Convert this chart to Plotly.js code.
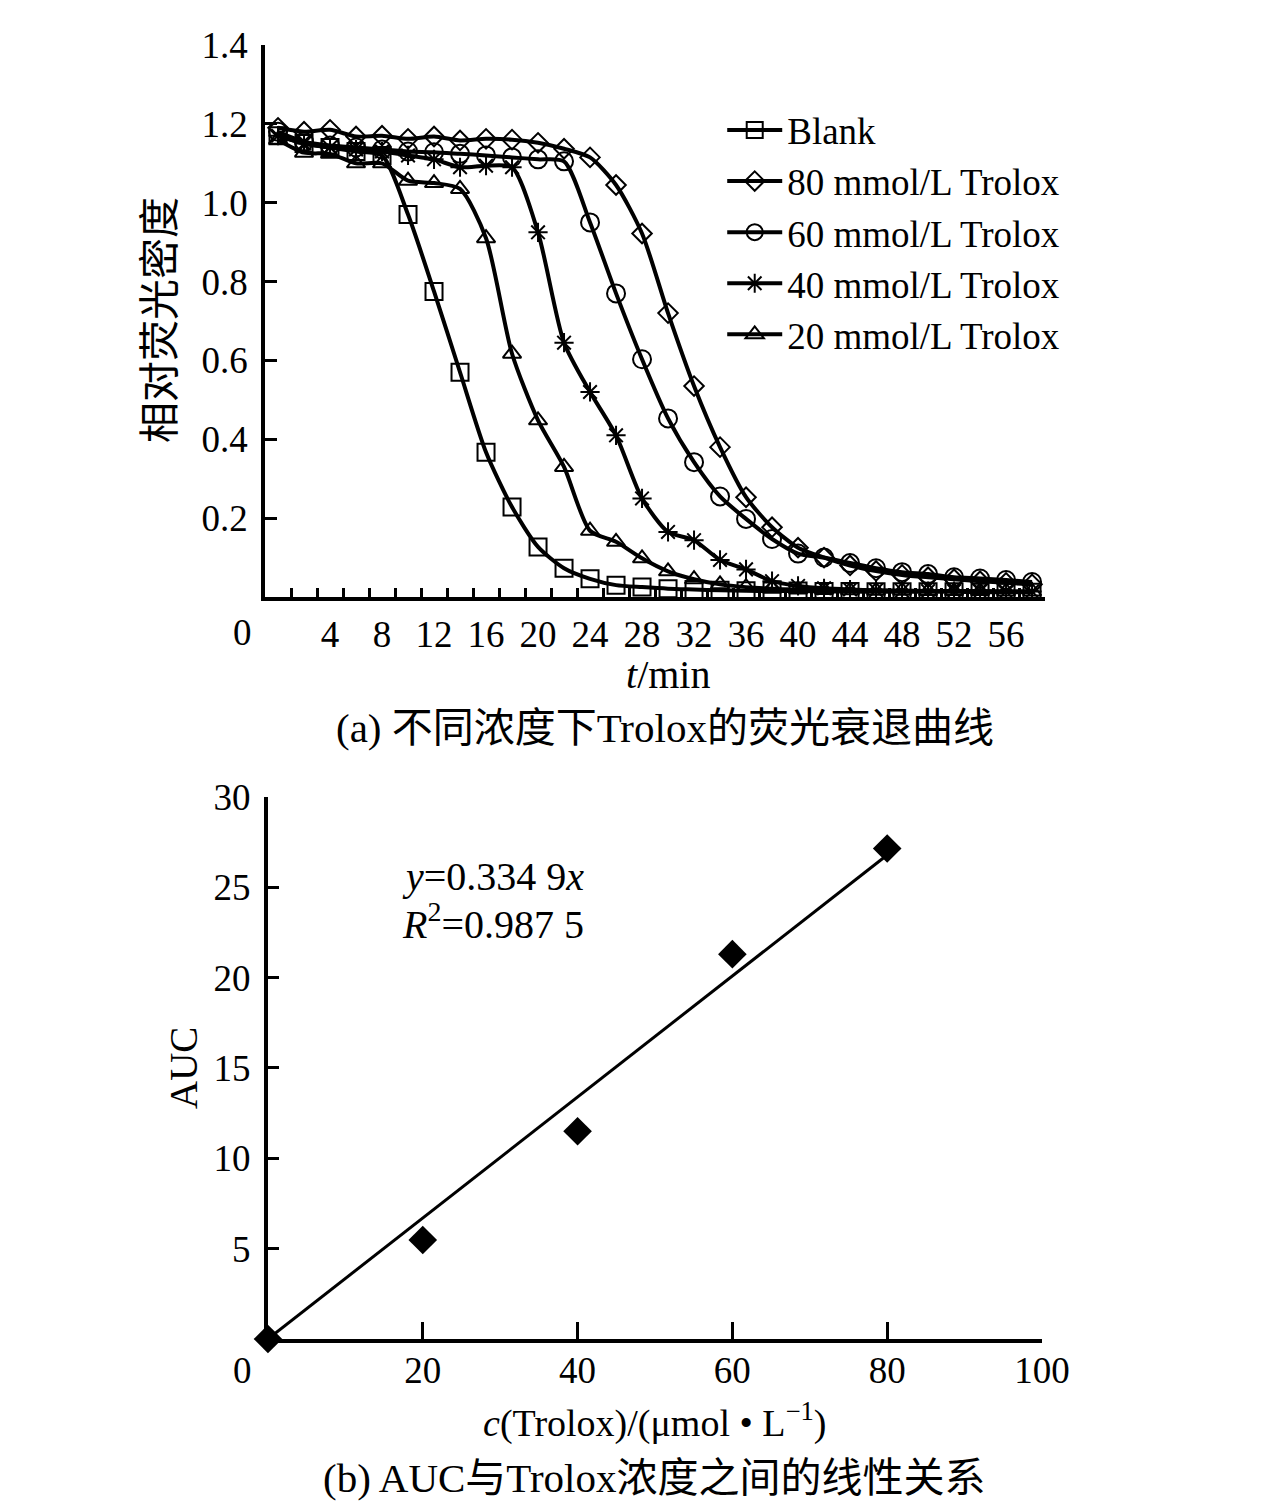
<!DOCTYPE html>
<html>
<head>
<meta charset="utf-8">
<script src="https://cdn.plot.ly/plotly-3.0.1.min.js"></script>
<style>
  html, body { margin: 0; padding: 0; background: #fff; }
  #chart { width: 1276px; height: 1506px; }
</style>
</head>
<body>
<div id="chart"></div>
<script>
// (a) fluorescence decay, sampled every 2 min
var timeMin = [0, 2, 4, 6, 8, 10, 12, 14, 16, 18, 20, 22, 24, 26, 28,
               30, 32, 34, 36, 38, 40, 42, 44, 46, 48, 50, 52, 54, 56, 58];

var blank = [1.17, 1.15, 1.14, 1.13, 1.12, 0.97, 0.775, 0.57, 0.367, 0.228,
             0.127, 0.073, 0.046, 0.03, 0.025, 0.021, 0.019, 0.017, 0.016, 0.015,
             0.015, 0.014, 0.014, 0.013, 0.013, 0.013, 0.013, 0.012, 0.012, 0.012];
var trolox80 = [1.19, 1.18, 1.185, 1.168, 1.17, 1.162, 1.168, 1.158, 1.162, 1.16,
                1.152, 1.137, 1.115, 1.045, 0.922, 0.72, 0.535, 0.38, 0.253, 0.177,
                0.125, 0.1, 0.08, 0.066, 0.056, 0.05, 0.045, 0.04, 0.036, 0.032];
var trolox60 = [1.18, 1.155, 1.145, 1.14, 1.135, 1.13, 1.128, 1.124, 1.12, 1.115,
                1.11, 1.105, 0.95, 0.77, 0.603, 0.453, 0.342, 0.255, 0.198, 0.147,
                0.11, 0.1, 0.086, 0.073, 0.063, 0.058, 0.05, 0.047, 0.043, 0.038];
var trolox40 = [1.17, 1.15, 1.14, 1.135, 1.13, 1.12, 1.11, 1.09, 1.094, 1.09,
                0.925, 0.645, 0.52, 0.41, 0.25, 0.165, 0.144, 0.094, 0.07, 0.04,
                0.028, 0.022, 0.019, 0.017, 0.016, 0.015, 0.015, 0.014, 0.014, 0.014];
var trolox20 = [1.16, 1.127, 1.124, 1.1, 1.1, 1.056, 1.05, 1.035, 0.91, 0.617,
                0.448, 0.33, 0.168, 0.14, 0.098, 0.065, 0.045, 0.032, 0.025, 0.021,
                0.019, 0.018, 0.017, 0.016, 0.016, 0.015, 0.015, 0.015, 0.014, 0.014];

var timeLabels = [4, 8, 12, 16, 20, 24, 28, 32, 36, 40, 44, 48, 52, 56];
var timeTicks = [1, 3, 5, 7, 9, 11, 13, 15, 17, 19, 21, 23, 25, 27, 29,
                 31, 33, 35, 37, 39, 41, 43, 45, 47, 49, 51, 53, 55, 57];
var odLabels = [0.2, 0.4, 0.6, 0.8, 1.0, 1.2, 1.4];

// (b) AUC vs Trolox concentration
var conc = [0, 20, 40, 60, 80];
var auc = [0, 5.48, 11.5, 21.3, 27.15];
var fitX = [0, 80];
var fitY = [0, 26.79];
var concLabels = [20, 40, 60, 80, 100];
var aucLabels = [5, 10, 15, 20, 25, 30];

var serif = 'Liberation Serif, Times New Roman, Noto Sans CJK SC, serif';
var fs = 37;

function decay(name, y, symbol, size) {
  return {
    name: name, x: timeMin, y: y, type: 'scatter', mode: 'lines+markers',
    xaxis: 'x', yaxis: 'y', legendgroup: name,
    line: {color: '#000', width: 4, shape: 'spline', smoothing: 0.7},
    marker: {symbol: symbol, size: size, color: '#000', line: {color: '#000', width: 2}}
  };
}

var data = [
  decay('Blank', blank, 'square-open', 17),
  decay('80 mmol/L Trolox', trolox80, 'diamond-open', 15),
  decay('60 mmol/L Trolox', trolox60, 'circle-open', 18),
  decay('40 mmol/L Trolox', trolox40, 'asterisk-open', 16),
  decay('20 mmol/L Trolox', trolox20, 'triangle-up-open', 16),
  {
    x: fitX, y: fitY, type: 'scatter', mode: 'lines', showlegend: false,
    xaxis: 'x2', yaxis: 'y2', line: {color: '#000', width: 3}
  },
  {
    x: conc, y: auc, type: 'scatter', mode: 'markers', showlegend: false,
    xaxis: 'x2', yaxis: 'y2', cliponaxis: false,
    marker: {symbol: 'diamond', size: 22, color: '#000'}
  }
];

var axisBase = {
  showline: true, linecolor: '#000', linewidth: 4, showgrid: false,
  zeroline: false, tickcolor: '#000', tickwidth: 3,
  tickfont: {family: serif, size: fs, color: '#000'}, fixedrange: true
};

function ax(extra) { return Object.assign({}, axisBase, extra); }

var ann = function (text, x, y, size, opts) {
  return Object.assign({
    text: text, x: x, y: y, xref: 'paper', yref: 'paper', showarrow: false,
    xanchor: 'center', yanchor: 'middle',
    font: {family: serif, size: size, color: '#000'}
  }, opts || {});
};

var layout = {
  width: 1276, height: 1506,
  margin: {l: 0, r: 0, t: 0, b: 0},
  paper_bgcolor: '#fff', plot_bgcolor: '#fff',
  showlegend: true,
  legend: {
    x: 0.566, y: 0.934, xanchor: 'left', yanchor: 'top',
    font: {family: serif, size: 37, color: '#000'},
    bgcolor: 'rgba(0,0,0,0)', tracegroupgap: 0, itemwidth: 55
  },
  xaxis: ax({
    domain: [0.2077, 0.819], range: [-1, 59], anchor: 'y',
    tickmode: 'array', tickvals: timeLabels, ticks: '', ticklabelstandoff: 2,
    minor: {tickmode: 'array', tickvals: timeTicks, ticks: 'inside', ticklen: 9,
            tickwidth: 3, tickcolor: '#000'}
  }),
  yaxis: ax({
    domain: [0.6036, 0.9701], range: [0, 1.4], anchor: 'x',
    tickmode: 'array', tickvals: odLabels, tickformat: '.1f',
    ticks: 'inside', ticklen: 12, ticklabelstandoff: 6
  }),
  xaxis2: ax({
    domain: [0.21, 0.8166], range: [0, 100], anchor: 'y2',
    tickmode: 'array', tickvals: concLabels,
    ticks: 'inside', ticklen: 17, ticklabelstandoff: -4
  }),
  yaxis2: ax({
    domain: [0.1109, 0.4708], range: [0, 30], anchor: 'x2',
    tickmode: 'array', tickvals: aucLabels,
    ticks: 'inside', ticklen: 11, ticklabelstandoff: 6
  }),
  annotations: [
    ann('0', 0.1904, 0.5797, fs),
    ann('<i>t</i>/min', 0.5235, 0.5518, 40),
    ann('(a) 不同浓度下Trolox的荧光衰退曲线', 0.5212, 0.5166, 41),
    ann('相对荧光密度', 0.1254, 0.7875, 41, {textangle: -90}),
    ann('0', 0.1904, 0.0903, fs),
    ann('AUC', 0.1434, 0.2908, 39, {textangle: -90}),
    ann('<i>c</i>(Trolox)/(μmol • L<sup>−1</sup>)', 0.5133, 0.0571, 38),
    ann('(b) AUC与Trolox浓度之间的线性关系', 0.5133, 0.0186, 41),
    ann('<i>y</i>=0.334 9<i>x</i>', 0.3135, 0.4177, 40, {xanchor: 'left'}),
    ann('<i>R</i><sup>2</sup>=0.987 5', 0.3135, 0.3878, 40, {xanchor: 'left'})
  ]
};

var config = {displayModeBar: false, responsive: false, staticPlot: true};

Plotly.newPlot('chart', data, layout, config);
</script>
</body>
</html>
